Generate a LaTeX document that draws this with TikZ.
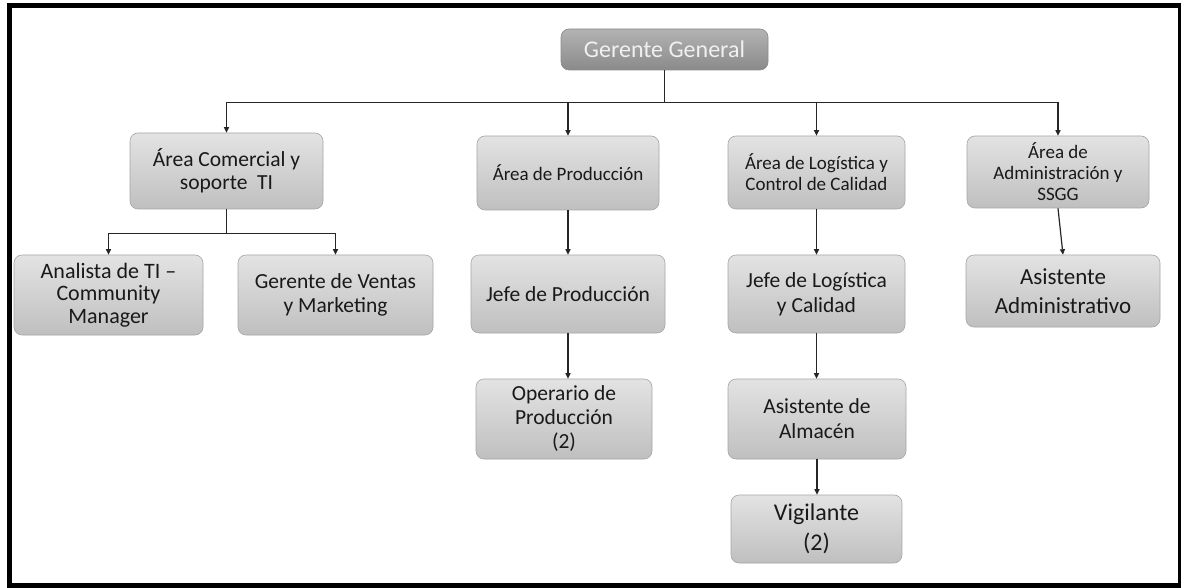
\documentclass[tikz,border=0pt]{standalone}
\usepackage{fontspec}
\setmainfont{Carlito}
\usepackage{tikz}
\usetikzlibrary{arrows.meta,calc}
\tikzset{
  % caja base
  box/.style={
    draw=black!35,
    line width=0.6pt,
    rounded corners=8pt,
    top color=black!11,
    bottom color=black!25,
    align=center,
    inner sep=2pt,
    text=black!90
  },
  % gerente
  jefebox/.style={box, draw=black!45, top color=black!30, bottom color=black!46, text=white!94!black},
  % flechas
  arr/.style={-{Triangle[length=5.5pt,width=5pt]}, line width=1.2pt, black!85},
  lin/.style={line width=1.2pt, black!85},
}
\newcommand{\fz}[2]{\fontsize{#1}{#2}\selectfont}

\begin{document}
\begin{tikzpicture}[x=1pt,y=-1pt]
  \useasboundingbox (0,0) rectangle (1181,588);
  \fill[white] (0,0) rectangle (1181,588);
  % marco
  \draw[line width=5pt] (9,6) rectangle (1180.5,585.5);

  % Gerente General
  \node[jefebox, minimum width=207pt, minimum height=41pt, font=\fz{24}{28}] (gg) at (664.5,49.5) {Gerente General};

  % areas
  \node[box, minimum width=193pt, minimum height=76pt, font=\fz{21.5}{22.5}] (comercial) at (226.5,171) {Área Comercial y\\soporte\ \ TI};
  \node[box, minimum width=182pt, minimum height=74pt, font=\fz{19}{21}] (produccion) at (568,173) {Área de Producción};
  \node[box, minimum width=177pt, minimum height=73pt, font=\fz{19}{21}] (logistica) at (816.5,172.5) {Área de Logística y\\Control de Calidad};
  \node[box, minimum width=182pt, minimum height=72pt, font=\fz{19}{21}] (admin) at (1058,172) {Área de\\Administración y\\SSGG};

  % segundo nivel
  \node[box, minimum width=189pt, minimum height=80pt, font=\fz{22}{22.5}] (analista) at (108.5,295) {Analista de TI –\\Community\\Manager};
  \node[box, minimum width=195pt, minimum height=80pt, font=\fz{21.5}{24}] (ventas) at (335.5,295) {Gerente de Ventas\\y Marketing};
  \node[box, minimum width=194pt, minimum height=78pt, font=\fz{21.5}{24}] (jefeprod) at (568,294) {Jefe de Producción};
  \node[box, minimum width=177pt, minimum height=78pt, font=\fz{21.5}{25}] (jefelog) at (816.5,294) {Jefe de Logística\\y Calidad};
  \node[box, minimum width=194pt, minimum height=72pt, font=\fz{23}{29}] (asistadm) at (1063,291) {Asistente\\Administrativo};

  % tercer nivel
  \node[box, minimum width=176pt, minimum height=80pt, font=\fz{21.5}{24}] (operario) at (564,419) {Operario de\\Producción\\(2)};
  \node[box, minimum width=178pt, minimum height=80pt, font=\fz{21.5}{25}] (almacen) at (817,419) {Asistente de\\Almacén};
  \node[box, minimum width=171pt, minimum height=68pt, font=\fz{24}{30}] (vigilante) at (816.5,529) {Vigilante\\(2)};

  % conexiones
  \coordinate (bus) at ($(gg.south)+(0,32)$);
  \draw[lin] (gg.south) -- (bus);
  \draw[arr] (bus) -| (comercial.north);
  \draw[arr] (bus) -| (produccion.north);
  \draw[arr] (bus) -| (logistica.north);
  \draw[arr] (bus) -| (admin.north);

  \coordinate (ramal) at ($(comercial.south)+(0,24)$);
  \draw[lin] (comercial.south) -- (ramal);
  \draw[arr] (ramal) -| (analista.north);
  \draw[arr] (ramal) -| (ventas.north);

  \draw[arr] (produccion.south) -- (jefeprod.north);
  \draw[arr] (jefeprod.south) -- (jefeprod.south |- operario.north);
  \draw[arr] (logistica.south) -- (jefelog.north);
  \draw[arr] (jefelog.south) -- (jefelog.south |- almacen.north);
  \draw[arr] (almacen.south) -- (almacen.south |- vigilante.north);
  \draw[arr] (admin.south) -- (asistadm.north);
\end{tikzpicture}
\end{document}
